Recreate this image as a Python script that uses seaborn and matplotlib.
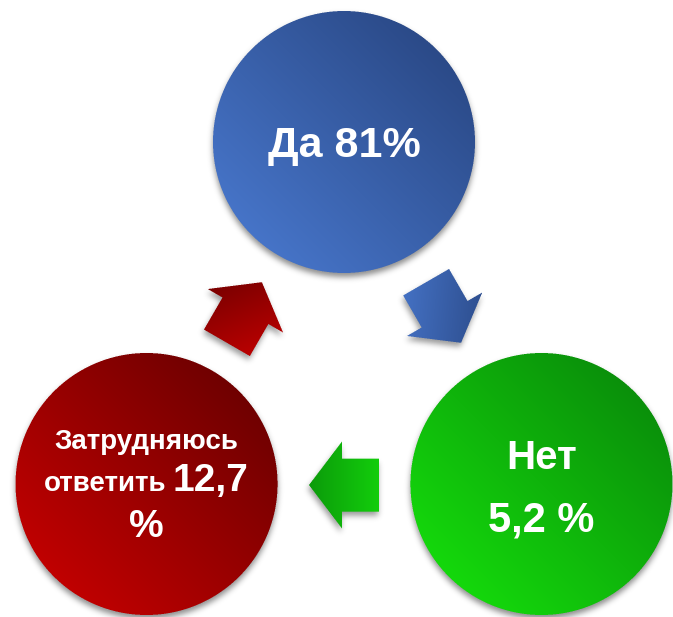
import numpy as np
import matplotlib
matplotlib.use("Agg")
import matplotlib.pyplot as plt
from matplotlib.path import Path
import seaborn as sns

# answers, clockwise from the top circle
answers = ["Да", "Нет", "Затрудняюсь ответить"]
shares = [81, 5.2, 12.7]
# gradient ends for each circle / arrow (light side, dark side)
light_colors = ["#4674C8", "#14D80C", "#C00000"]
dark_colors = ["#2B4A88", "#0A900A", "#700000"]
# which way each arrow's gradient darkens (image coords)
arrow_dark_dir = [(1.0, 0.1), (-1.0, 0.0), (-0.4, -1.0)]

W, H = 673, 617
sns.set_theme(style="white")
plt.rcParams["font.family"] = ["Liberation Sans", "DejaVu Sans"]

fig = plt.figure(figsize=(W / 100, H / 100), dpi=100)
ax = fig.add_axes([0, 0, 1, 1])

middle = np.array([344.0, 370.0])
ring, radius = 228, 131
arrow_ring = 115
L, head_len, head_w, shaft_w = 70, 33, 87, 53


def pct(v):
    return f"{v:g}".replace(".", ",")


def blur(a, sigma):
    k = np.arange(-3 * sigma, 3 * sigma + 1)
    k = np.exp(-k ** 2 / (2 * sigma ** 2))
    k /= k.sum()
    a = np.apply_along_axis(lambda m: np.convolve(m, k, mode="same"), 0, a)
    return np.apply_along_axis(lambda m: np.convolve(m, k, mode="same"), 1, a)


def paint(inside, cx, cy, size, cmap, dark_dir, shadow_off, shadow_alpha, z, ss=3):
    pad = 14
    x0, y0 = int(cx - size - pad), int(cy - size - pad)
    x1, y1 = int(cx + size + pad), int(cy + size + pad)
    nx, ny = x1 - x0, y1 - y0
    xs = x0 + (np.arange(nx * ss) + 0.5) / ss
    ys = y0 + (np.arange(ny * ss) + 0.5) / ss
    X, Y = np.meshgrid(xs, ys)
    cover = inside(X, Y).astype(float).reshape(ny, ss, nx, ss).mean(axis=(1, 3))

    # soft shadow
    dx, dy = shadow_off
    sh = np.roll(np.roll(cover, dy, axis=0), dx, axis=1)
    sh = blur(sh, 3) * shadow_alpha
    rgba = np.zeros((ny, nx, 4))
    rgba[..., 3] = sh
    ax.imshow(rgba, extent=(x0, x1, y1, y0), origin="upper",
              interpolation="none", zorder=z)

    # gradient fill
    PX, PY = np.meshgrid(x0 + np.arange(nx) + 0.5, y0 + np.arange(ny) + 0.5)
    d = np.array(dark_dir) / np.hypot(*dark_dir)
    t = ((PX - cx) * d[0] + (PY - cy) * d[1]) / size
    t = np.clip((t + 1) / 2, 0, 1)
    rgba = cmap(t)
    rgba[..., 3] = cover
    ax.imshow(rgba, extent=(x0, x1, y1, y0), origin="upper",
              interpolation="none", zorder=z + 1)


for i in range(3):
    cmap = sns.blend_palette([light_colors[i], dark_colors[i]], as_cmap=True)

    # circle
    phi = np.deg2rad(90 - 120 * i)
    cx = middle[0] + ring * np.cos(phi)
    cy = middle[1] - ring * np.sin(phi)
    paint(lambda X, Y, cx=cx, cy=cy: (X - cx) ** 2 + (Y - cy) ** 2 <= radius ** 2,
          cx, cy, radius, cmap, (1, -1), (0, 4), 0.45, 3)

    # arrow leaving this circle
    th = np.deg2rad(90 - 120 * i - 60)
    a = th - np.pi / 2
    ax_, ay_ = middle[0] + arrow_ring * np.cos(th), middle[1] - arrow_ring * np.sin(th)
    local = np.array([(L / 2, 0), (L / 2 - head_len, head_w / 2), (L / 2 - head_len, shaft_w / 2),
                      (-L / 2, shaft_w / 2), (-L / 2, -shaft_w / 2), (L / 2 - head_len, -shaft_w / 2),
                      (L / 2 - head_len, -head_w / 2)])
    rx = local[:, 0] * np.cos(a) - local[:, 1] * np.sin(a)
    ry = local[:, 0] * np.sin(a) + local[:, 1] * np.cos(a)
    path = Path(np.column_stack([ax_ + rx, ay_ - ry]))
    paint(lambda X, Y, p=path: p.contains_points(np.column_stack([X.ravel(), Y.ravel()])).reshape(X.shape),
          ax_, ay_, 50, cmap, arrow_dark_dir[i], (-1, 4), 0.4, 6)

    txt = dict(color="white", fontweight="bold", ha="center", va="baseline", zorder=10)
    if i == 0:
        ax.text(cx, cy + 15.5, f"{answers[0]} {pct(shares[0])}%", fontsize=31, **txt)
    elif i == 1:
        ax.text(cx, cy - 15, answers[1], fontsize=29, **txt)
        ax.text(cx, cy + 47, f"{pct(shares[1])} %", fontsize=30, **txt)
    else:
        first, second = answers[2].split(" ")
        ax.text(cx, cy - 35, first, fontsize=20, **txt)
        t1 = ax.text(0, cy + 7, second, fontsize=20, **{**txt, "ha": "left"})
        t2 = ax.text(0, cy + 7, pct(shares[2]), fontsize=28, **{**txt, "ha": "left"})
        ax.text(cx, cy + 53, "%", fontsize=28, **txt)
        fig.canvas.draw()
        r = fig.canvas.get_renderer()
        w1 = t1.get_window_extent(r).width
        w2 = t2.get_window_extent(r).width
        gap = 6
        start = cx - (w1 + gap + w2) / 2
        t1.set_x(start)
        t2.set_x(start + w1 + gap)

ax.set_xlim(0, W)
ax.set_ylim(H, 0)
ax.set_aspect("auto")
ax.axis("off")

fig.savefig("out.png", dpi=100)
